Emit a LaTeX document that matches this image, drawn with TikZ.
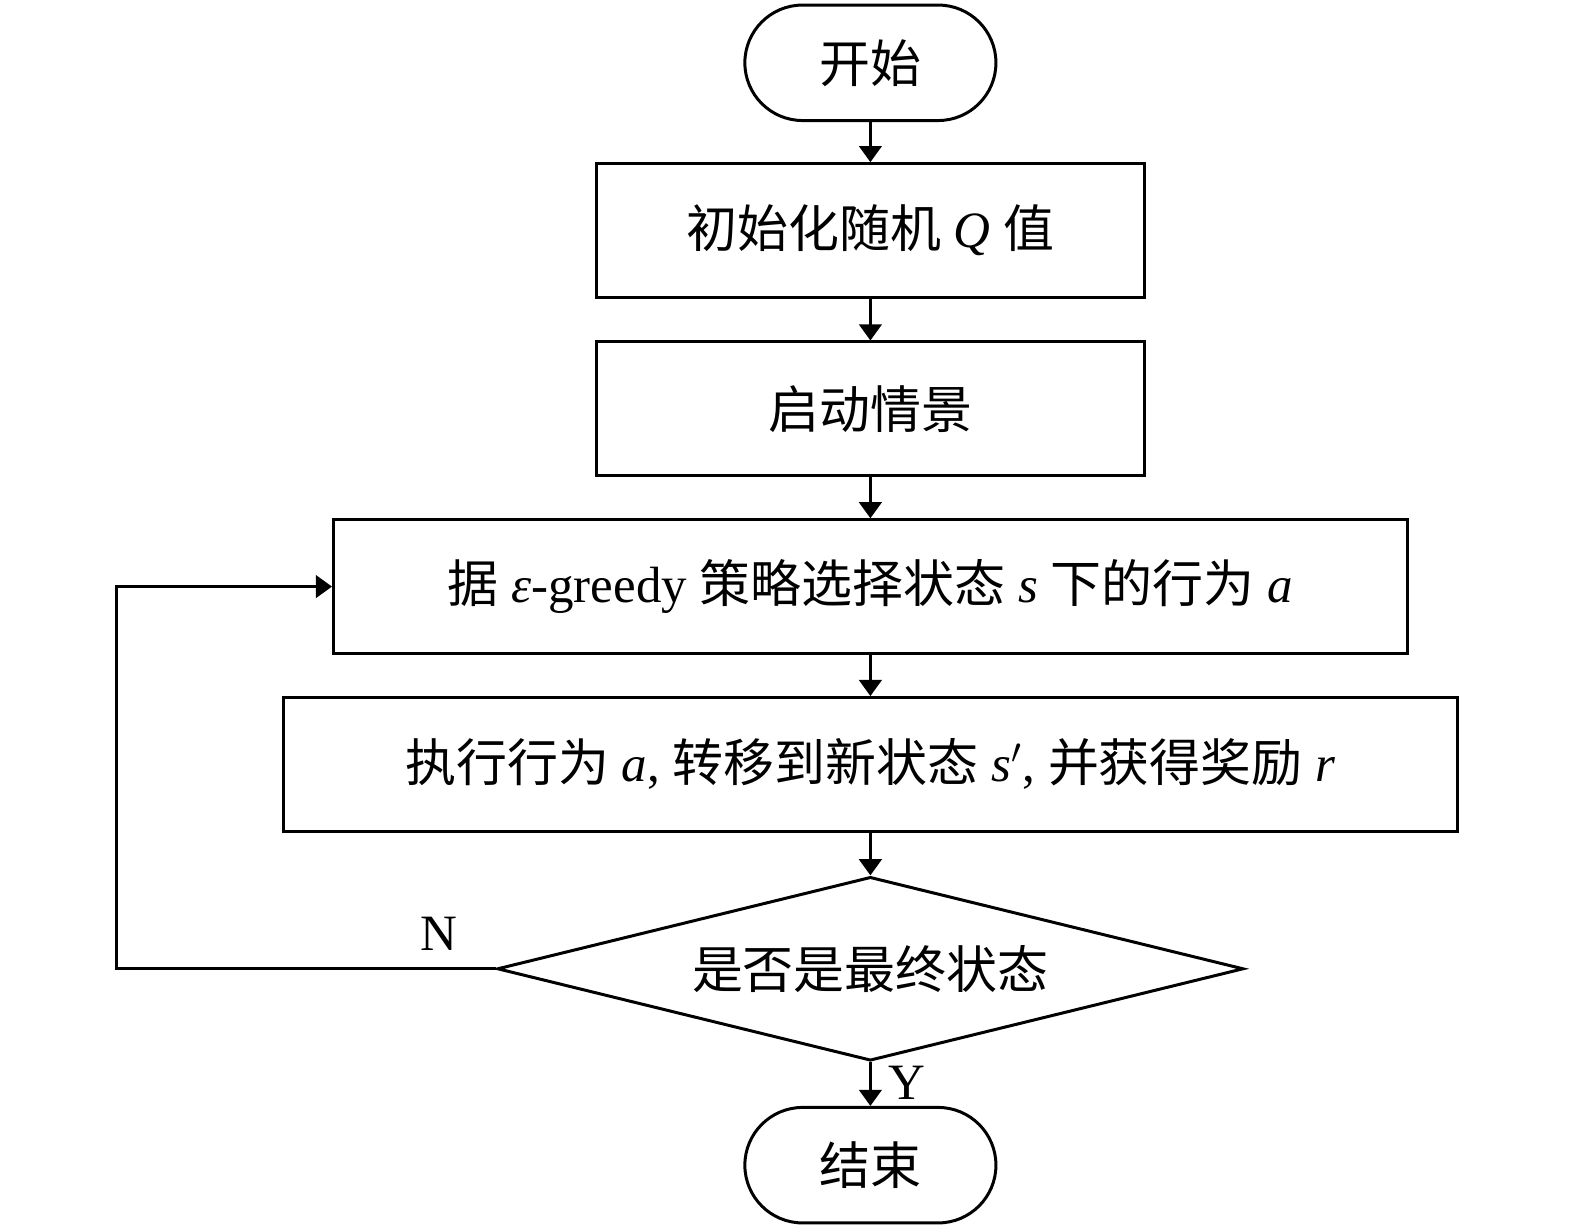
\documentclass[tikz,border=0pt]{standalone}
\usepackage{fontspec}
\setmainfont{Liberation Serif}
\newfontfamily\cjk{Noto Sans CJK SC}
\newcommand{\zh}[1]{{\cjk #1}}
\usetikzlibrary{arrows.meta,shapes.geometric}
\tikzset{
  every node/.style={font=\fontsize{14.5}{17}\selectfont},
  stepbox/.style={draw,line width=0.85pt,minimum height=1.336cm,inner sep=0pt},
  termbox/.style={draw,line width=0.85pt,minimum width=2.511cm,minimum height=1.155cm,rounded corners=0.578cm},
  decbox/.style={draw,diamond,line width=0.85pt,minimum width=7.463cm,minimum height=1.838cm,inner sep=0pt,aspect=4},
  flow/.style={line width=0.85pt,-{Triangle[length=4.6pt,width=6.4pt]}}
}
\begin{document}
\begin{tikzpicture}
            \useasboundingbox (0,0) rectangle (15.75,-12.28);
            \node[termbox] (start) at (8.704,-0.628) {\zh{开始}};
            \node[stepbox,minimum width=5.474cm] (init) at (8.704,-2.305) {\zh{初始化随机} \textit{Q} \zh{值}};
            \node[stepbox,minimum width=5.474cm] (episode) at (8.704,-4.088) {\zh{启动情景}};
            \node[stepbox,minimum width=10.738cm] (choose) at (8.704,-5.866) {\zh{据} \textit{ε}-greedy \zh{策略选择状态} \textit{s} \zh{下的行为} \textit{a}};
            \node[stepbox,minimum width=11.733cm] (act) at (8.704,-7.644) {\zh{执行行为} \textit{a}, \zh{转移到新状态} \textit{s}$'$, \zh{并获得奖励} \textit{r}};
            \node[decbox] (final) at (8.704,-9.688) {\zh{是否是最终状态}};
            \node[termbox] (stop) at (8.704,-11.652) {\zh{结束}};
            \draw[flow] (start) -- (init);
            \draw[flow] (init) -- (episode);
            \draw[flow] (episode) -- (choose);
            \draw[flow] (choose) -- (act);
            \draw[flow] (act) -- (final);
            \draw[flow] (final) -- (stop);
            \coordinate (corner) at (1.165,-9.688);
            \draw[flow] (final.west) -- (corner) |- (choose.west);
            \node (nlabel) at (4.39,-9.342) {N};
            \node (ylabel) at (9.07,-10.829) {Y};
\end{tikzpicture}
\end{document}
